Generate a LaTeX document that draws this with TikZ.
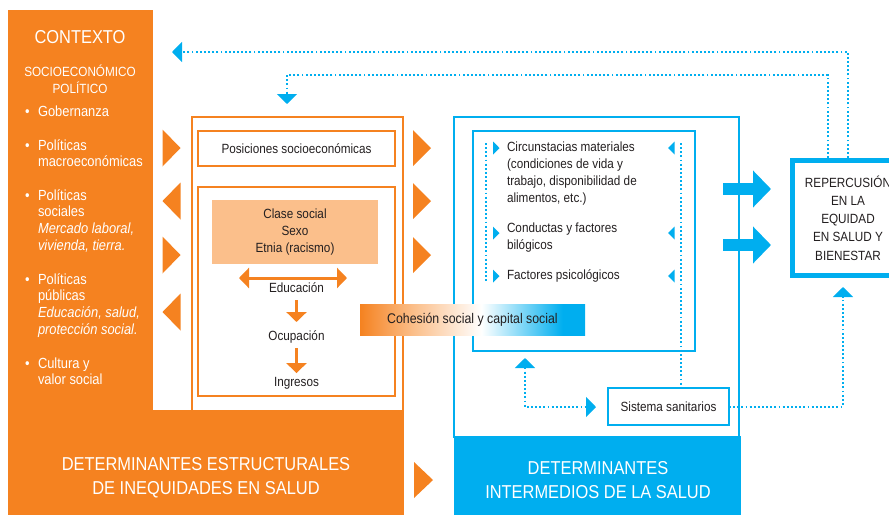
\documentclass[tikz,border=0pt]{standalone}
\usepackage{fontspec}
\setmainfont{Liberation Sans}[FakeStretch=0.88]
\usetikzlibrary{calc, arrows.meta}

\definecolor{orng}{HTML}{F58220}
\definecolor{peach}{HTML}{FBBF8B}
\definecolor{blu}{HTML}{00AEEF}
\definecolor{ink}{HTML}{231F20}

\pgfdeclarehorizontalshading{cohesion}{100bp}{color(0bp)=(orng); color(25bp)=(orng); color(37bp)=(peach); color(52bp)=(white); color(70bp)=(blu); color(100bp)=(blu)}

\tikzset{
	sz/.style n args={2}{minimum width=#1*0.75pt, minimum height=#2*0.75pt},
	obox/.style={draw=orng, line width=1.5pt},
	bbox/.style={draw=blu, line width=1.8pt},
	fbline/.style={blu, line width=1.5pt, dash pattern=on 1.4pt off 1.7pt},
	dtip/.style={-{Triangle[width=15pt,length=7.5pt]}},
	dtiptwo/.style={{Triangle[width=15pt,length=7.5pt]}-{Triangle[width=15pt,length=7.5pt]}},
	oline/.style={orng, line width=2.25pt},
	bigtip/.style={blu, line width=9pt, -{Triangle[width=27pt,length=13.5pt]}},
	lbl/.style={text height=7.5pt, text depth=2pt},
	lst/.style={align=left, anchor=base west},
	ctx/.style={text=white, font=\fontsize{11}{12.5}\selectfont, align=left, anchor=base west},
	ctxhead/.style={text=white, font=\fontsize{14}{18}\selectfont},
	ctxsub/.style={text=white, align=center},
	bandtxt/.style={text=white, font=\fontsize{14}{18}\selectfont, align=center},
}

\begin{document}
\begin{tikzpicture}[x=0.75pt, y=-0.75pt, every node/.style={inner sep=0pt, outer sep=0pt, text=ink}, font=\fontsize{10}{12.75}\selectfont]
	\useasboundingbox (0,0) rectangle (889,515);

	% orange side: context panel and bottom band
	\begin{scope}
		\fill[orng] (8,10) rectangle (153,515);
		\fill[orng] (8,410) rectangle (404,515);
	\end{scope}

	\node[ctxhead] (ctxt) at (80,37) {CONTEXTO};
	\node[ctxsub] (socio) at (80,79) {SOCIOECONÓMICO\\POLÍTICO};

	% items: first baseline / last baseline
	\foreach \yb/\yl/\name/\txt in {116/116/gob/{Gobernanza}, 150/166.7/macro/{Políticas\\macroeconómicas}, 200/250/soc/{Políticas\\sociales\\\textit{Mercado laboral,}\\\textit{vivienda, tierra.}}, 284/334/pub/{Políticas\\públicas\\\textit{Educación, salud,}\\\textit{protección social.}}, 368/384.7/cult/{Cultura y\\valor social}}
	{
		\node[ctx] (\name) at (38,\yl) {\txt};
		\node[ctx] (\name-b) at (25,\yb) {•};
	}

	% structural determinants
	\node[obox, sz={211}{294}] (estr) at (297.5,264) {};
	\node[obox, sz={197}{35}] (posic) at (296.5,148.5) {Posiciones socioeconómicas};
	\node[obox, sz={197}{209}] (grupo) at (296.5,291.5) {};
	\node[fill=peach, sz={166}{64}, align=center] (clase) at (295,232) {Clase social\\Sexo\\Etnia (racismo)};
	\node[lbl] (educ) at (296.5,289) {Educación};
	\node[lbl] (ocup) at (296.5,337) {Ocupación};
	\node[lbl] (ingr) at (296.5,383) {Ingresos};

	\coordinate (edl) at (239,278);
	\coordinate (edr) at (347,278);
	\draw[oline, dtiptwo] (edl) -- (edr);
	\draw[oline, dtip, shorten <=3.5pt, shorten >=6.5pt] (educ) -- (ocup);
	\draw[oline, dtip, shorten <=3.5pt, shorten >=2.7pt] (ocup) -- (ingr);

	% orange markers
	\foreach \yc/\d in {148/1, 201/-1, 255/1, 312/-1}
		\fill[orng] ({171.5-9*\d},{\yc-18.5}) -- ({171.5+9*\d},\yc) -- ({171.5-9*\d},{\yc+18.5}) -- cycle;
	\foreach \yc in {148, 201, 255}
		\fill[orng] (413,{\yc-18}) -- (431,\yc) -- (413,{\yc+18}) -- cycle;
	\fill[orng] (414,462) -- (433,480) -- (414,498) -- cycle;

	% intermediate determinants
	\fill[blu] (454,436) rectangle (741,515);
	\node[bbox, sz={285}{320}] (interm) at (596.5,277) {};
	\node[bbox, sz={222}{220}] (inner) at (584,241) {};
	\node[lst] (circ) at (507,202.5) {Circunstacias materiales\\(condiciones de vida y\\trabajo, disponibilidad de\\alimentos, etc.)};
	\node[lst] (cond) at (507,249.5) {Conductas y factores\\bilógicos};
	\node[lst] (psic) at (507,279.5) {Factores psicológicos};
	\node[bbox, fill=white, sz={121}{37}] (sist) at (668.5,406.5) {Sistema sanitarios};

	\coordinate (lt) at (486,143);
	\coordinate (lb) at (486,281);
	\coordinate (rt) at (681,143);
	\draw[fbline] (lt) -- (lb);
	\draw[fbline] (rt) -- (rt |- sist.north);
	\foreach \yc in {148, 233, 276} {
		\fill[blu] (493,{\yc-6.5}) -- (499.5,\yc) -- (493,{\yc+6.5}) -- cycle;
		\fill[blu] (674.5,{\yc-6.5}) -- (668,\yc) -- (674.5,{\yc+6.5}) -- cycle;
	}

	\node[bandtxt] (estr-t) at (206,478) {DETERMINANTES ESTRUCTURALES\\DE INEQUIDADES EN SALUD};
	\node[bandtxt] (interm-t) at (598,480) {DETERMINANTES\\INTERMEDIOS DE LA SALUD};

	% outcome and feedback
	\node[draw=blu, line width=3.75pt, sz={111}{115}, align=center, font=\fontsize{10}{13.7}\selectfont] (reperc) at (848,218) {REPERCUSIÓN\\EN LA\\EQUIDAD\\EN SALUD Y\\BIENESTAR};
	\draw[bigtip] ($(reperc.west)+(-69.5,-29)$) -- ++(48,0);
	\draw[bigtip] ($(reperc.west)+(-69.5,27)$) -- ++(48,0);

	\coordinate (hs) at (525,358);
	\coordinate (hs-e) at (596,407);
	\draw[fbline, dtiptwo] (hs) |- (hs-e);
	\coordinate (up) at (843,287);
	\draw[fbline, dtip] (sist.east) -| (up);

	\coordinate (ctx-in) at (172,52);
	\coordinate (estr-in) at (287,104);
	\draw[fbline, dtip] ($(reperc.north)+(0,-2.5)$) |- (ctx-in);
	\draw[fbline, dtip] ($(reperc.north)+(-20,-2.5)$) |- (287,75) -- (estr-in);

	% cohesion bar
	\node[shade, shading=cohesion, sz={225}{31}, font=\fontsize{10.5}{12}\selectfont] (cohes) at (472.5,320) {Cohesión social y capital social};
\end{tikzpicture}
\end{document}
